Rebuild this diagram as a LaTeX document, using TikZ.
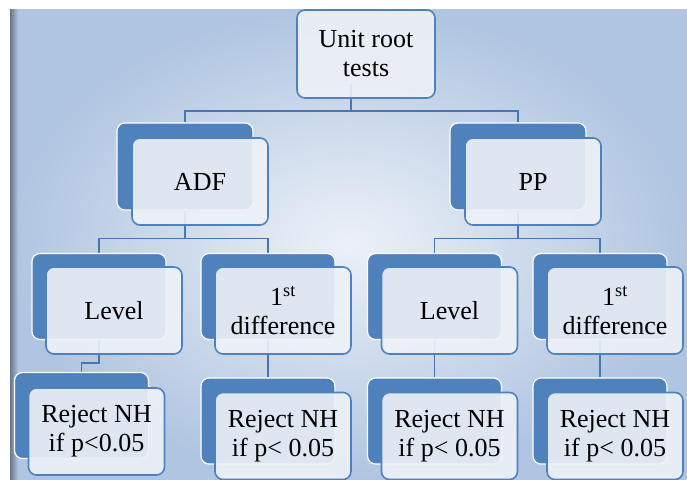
\documentclass[tikz,border=0pt]{standalone}
\usepackage{fontspec}
\setmainfont{Liberation Serif}
\usetikzlibrary{calc,positioning}
\definecolor{azulsmart}{RGB}{79,129,189}
\definecolor{azullinea}{RGB}{72,118,178}
\definecolor{blancoazul}{RGB}{238,242,248}
\definecolor{fondoborde}{RGB}{176,197,225}
\definecolor{fondocentro}{RGB}{236,241,248}
\pgfdeclarelayer{fondo}
\pgfdeclarelayer{lineas}
\pgfsetlayers{fondo,lineas,main}
\tikzset{
  atras/.style={
    rounded corners=8pt,
    draw=white,
    line width=1.2pt,
    fill=azulsmart,
    minimum width=134pt,
    minimum height=86pt,
    inner sep=0pt
  },
  frente/.style={
    rounded corners=8pt,
    draw=azulsmart,
    line width=1.6pt,
    fill=blancoazul,
    fill opacity=.9,
    text opacity=1,
    align=center,
    minimum width=136pt,
    minimum height=87pt,
    inner sep=2pt,
    font=\fontsize{26}{29}\selectfont
  },
  linea/.style={
    azullinea,
    line width=1.5pt
  }
}

\begin{document}
\begin{tikzpicture}[x=1pt,y=-1pt]
\useasboundingbox (0,0) rectangle (687,479);
\begin{pgfonlayer}{fondo}
\shade[inner color=fondocentro, outer color=fondoborde] (10,9) rectangle (687,479);
\shade[left color=black!40!fondoborde, right color=fondoborde] (10,9) rectangle (18,479);
\end{pgfonlayer}
% raiz
\node[frente, minimum width=138pt, minimum height=88pt] (raiz) at (366,54) {Unit root\\tests};
% segundo nivel
\node[atras, minimum width=136pt, minimum height=87pt] (adfs) at (185,166.5) {};
\node[frente] (adf) at ([shift={(15,15)}]adfs) {ADF};
\node[atras, minimum width=136pt, minimum height=87pt] (pps) at (518,166.5) {};
\node[frente] (pp) at ([shift={(15,15)}]pps) {PP};
% tercer nivel
\node[atras] (nivs1) at (99,296.5) {};
\node[frente] (niv1) at ([shift={(15,14)}]nivs1) {Level};
\node[atras] (difs1) at (268,296.5) {};
\node[frente] (dif1) at ([shift={(15,14)}]difs1) {1\textsuperscript{st}\\difference};
\node[atras] (nivs2) at (434.5,296.5) {};
\node[frente] (niv2) at ([shift={(15,14)}]nivs2) {Level};
\node[atras] (difs2) at (600,296.5) {};
\node[frente] (dif2) at ([shift={(15,14)}]difs2) {1\textsuperscript{st}\\difference};
% cuarto nivel
\node[atras] (rechs1) at (81.5,415.5) {};
\node[frente] (rech1) at ([shift={(15,16)}]rechs1) {Reject NH\\if p<0.05};
\node[atras] (rechs2) at (268,421) {};
\node[frente] (rech2) at ([shift={(15,15)}]rechs2) {Reject NH\\if p< 0.05};
\node[atras] (rechs3) at (434.5,421) {};
\node[frente] (rech3) at ([shift={(15,15)}]rechs3) {Reject NH\\if p< 0.05};
\node[atras] (rechs4) at (600,421) {};
\node[frente] (rech4) at ([shift={(15,15)}]rechs4) {Reject NH\\if p< 0.05};
% conectores
\begin{pgfonlayer}{lineas}
\draw[linea] ([shift={(-15,-15)}]raiz.south) -- ++(0,27) -| (adfs.north);
\draw[linea] ([shift={(-15,-15)}]raiz.south) -- ++(0,27) -| (pps.north);
\draw[linea] (adfs.south) -- ++(0,28) -| (nivs1.north);
\draw[linea] (adfs.south) -- ++(0,28) -| (difs1.north);
\draw[linea] (pps.south) -- ++(0,28) -| (nivs2.north);
\draw[linea] (pps.south) -- ++(0,28) -| (difs2.north);
\draw[linea] (nivs1.south) -- ++(0,23) -| (rechs1.north);
\draw[linea] (difs1.south) -- (rechs2.north);
\draw[linea] (nivs2.south) -- (rechs3.north);
\draw[linea] (difs2.south) -- (rechs4.north);
\end{pgfonlayer}
\end{tikzpicture}
\end{document}
